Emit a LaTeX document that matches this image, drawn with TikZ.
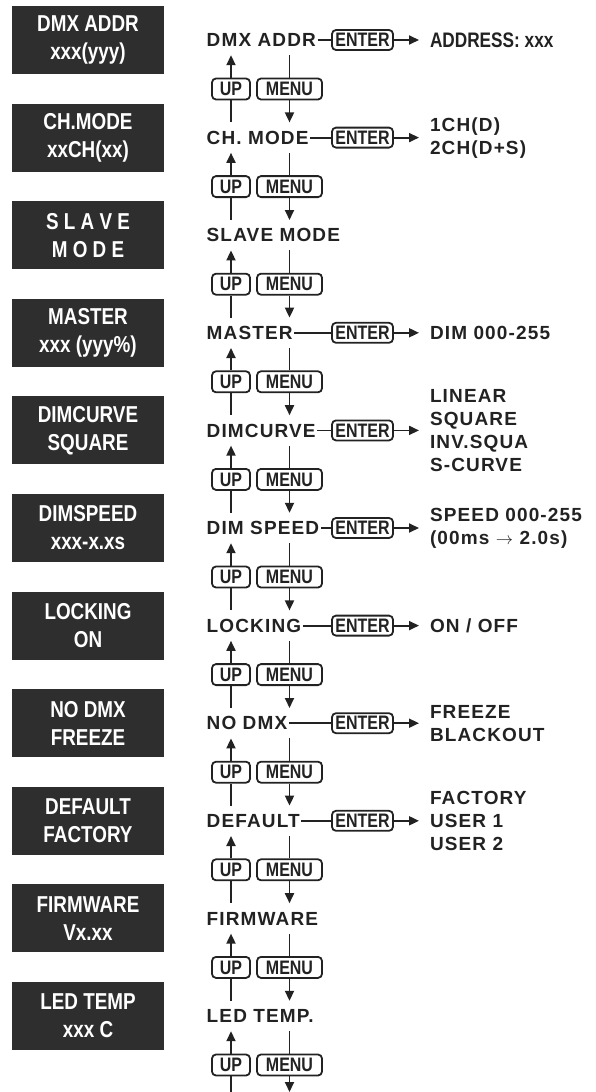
\documentclass[tikz,border=0pt]{standalone}
\usepackage{fontspec}
\setmainfont{Liberation Sans}
\newfontfamily\itemfont{Liberation Sans}[LetterSpace=6]
\newfontfamily\narrowfont{Liberation Sans}[FakeStretch=0.82]
\usetikzlibrary{arrows.meta}
\definecolor{lcdgray}{HTML}{2E2E2E}
\definecolor{ink}{HTML}{222222}
\tikzset{
	lcd/.style={fill=lcdgray, text=white, minimum width=152pt, minimum height=68pt, inner sep=0pt, align=center, font=\narrowfont\bfseries\fontsize{23}{28}\selectfont},
	item/.style={anchor=west, inner sep=0pt, inner xsep=1.5pt, minimum height=30pt, text height=13.5pt, text depth=0pt, text=ink, font=\itemfont\bfseries\fontsize{19}{23}\selectfont},
	btn/.style={draw=ink, line width=1.8pt, rounded corners=4pt, fill=white, inner sep=0pt, minimum height=21pt, text height=13.5pt, text depth=0pt, text=ink, font=\narrowfont\bfseries\fontsize{19.5}{19.5}\selectfont},
	value/.style={anchor=west, inner sep=0pt, outer xsep=11pt, align=left, text=ink, font=\itemfont\bfseries\fontsize{19}{23}\selectfont},
	wire/.style={line width=1.8pt, draw=ink},
	arrowline/.style={wire, -{Triangle[length=10pt,width=9pt]}},
}
\begin{document}
\begin{tikzpicture}[x=1pt,y=1pt]
	\useasboundingbox (0,0) rectangle (595,-1092);
	% display boxes and menu items
	\foreach \i/\disp/\name in {0/{DMX ADDR\\xxx(yyy)}/{DMX ADDR},1/{CH.MODE\\xxCH(xx)}/{CH. MODE},2/{S L A V E\\M O D E}/{SLAVE MODE},3/{MASTER\\xxx (yyy\%)}/{MASTER},4/{DIMCURVE\\SQUARE}/{DIMCURVE},5/{DIMSPEED\\xxx-x.xs}/{DIM SPEED},6/{LOCKING\\ON}/{LOCKING},7/{NO DMX\\FREEZE}/{NO DMX},8/{DEFAULT\\FACTORY}/{DEFAULT},9/{FIRMWARE\\Vx.xx}/{FIRMWARE},10/{LED TEMP\\xxx C}/{LED TEMP.}}{
		\pgfmathsetmacro{\y}{-40-97.6*\i}
		\node[lcd] (box\i) at (88,\y) {\disp};
		\node[item] (item\i) at (205,\y) {\name};
		\node[btn, minimum width=38pt] (up\i) at (231,\y-49) {UP};
		\node[btn, minimum width=65pt] (menu\i) at (289.5,\y-49) {MENU};
	}
	\coordinate (item11) at (205,-1092);
	% up / menu
	\foreach \i [evaluate=\i as \j using int(\i+1)] in {0,...,10}{
		\draw[wire] (up\i.south) -- (up\i.south |- item\j.north);
		\draw[arrowline] (up\i.north) -- (up\i.north |- item\i.south);
		\draw[wire] (menu\i.north) -- (menu\i.north |- item\i.south);
		\draw[arrowline] (menu\i.south) -- (menu\i.south |- item\j.north);
	}
	% enter
	\foreach \i/\val in {0/{\narrowfont\fontsize{21}{23}\selectfont ADDRESS: xxx},1/{1CH(D)\\2CH(D+S)},3/{DIM 000-255},4/{LINEAR\\SQUARE\\INV.SQUA\\S-CURVE},5/{SPEED 000-255\\(00ms $\rightarrow$ 2.0s)},6/{ON / OFF},7/{FREEZE\\BLACKOUT},8/{FACTORY\\USER 1\\USER 2}}{
		\node[btn, minimum width=61pt, minimum height=20pt] (enter\i) at (362.5,0 |- item\i) {ENTER};
		\node[value] (val\i) at (419,0 |- item\i) {\val};
		\draw[wire] (item\i) -- (enter\i);
		\draw[arrowline] (enter\i) -- (val\i);
	}
\end{tikzpicture}
\end{document}
